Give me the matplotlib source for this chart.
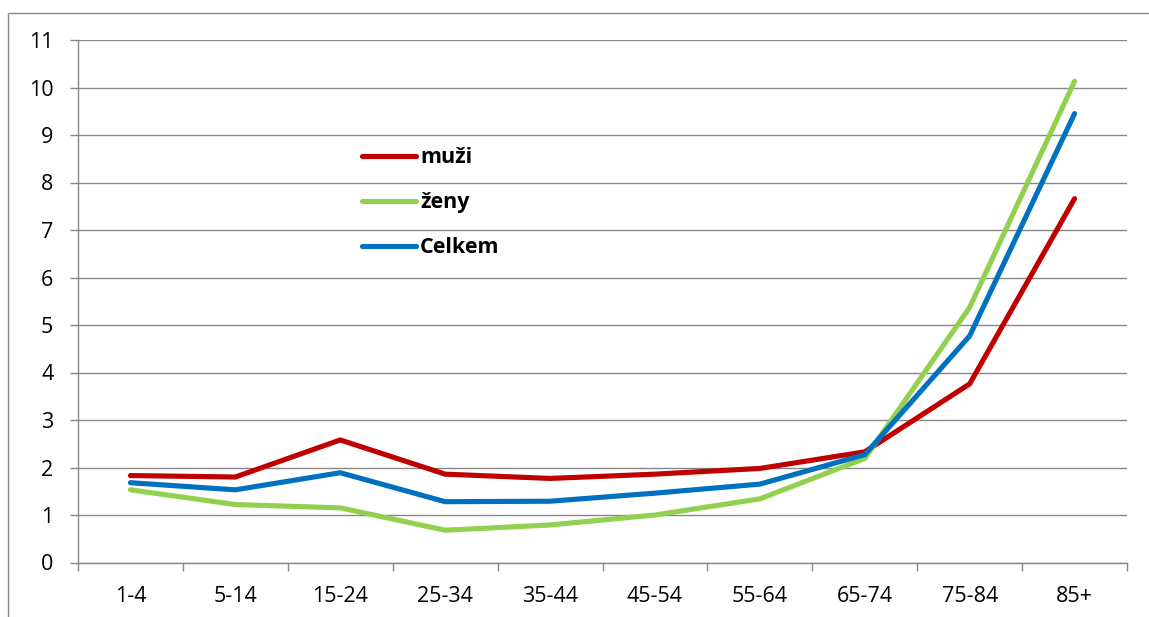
import numpy as np
import matplotlib
matplotlib.use("Agg")
import matplotlib.pyplot as plt
from matplotlib.lines import Line2D

# data
kategorie = ['1-4', '5-14', '15-24', '25-34', '35-44', '45-54', '55-64', '65-74', '75-84', '85+']
muzi = [1.83, 1.80, 2.58, 1.86, 1.77, 1.86, 1.98, 2.33, 3.76, 7.66]
zeny = [1.53, 1.22, 1.15, 0.68, 0.79, 1.00, 1.34, 2.19, 5.37, 10.13]
celkem = [1.68, 1.53, 1.89, 1.28, 1.29, 1.46, 1.65, 2.27, 4.77, 9.45]

plt.rcParams['font.family'] = ['Open Sans', 'DejaVu Sans']

W, H = 1149, 617
fig = plt.figure(figsize=(W / 100, H / 100), dpi=100)
ax = fig.add_axes([78 / W, (H - 562.5) / H, (1127 - 78) / W, (562.5 - 40) / H])

x = np.arange(len(kategorie))
lw = 3.7
ax.plot(x, muzi, color='#C00000', lw=lw, label='muži', solid_capstyle='round', solid_joinstyle='round')
ax.plot(x, zeny, color='#92D050', lw=lw, label='ženy', solid_capstyle='round', solid_joinstyle='round')
ax.plot(x, celkem, color='#0070C0', lw=lw, label='Celkem', solid_capstyle='round', solid_joinstyle='round')

ax.set_xlim(-0.5, len(kategorie) - 0.5)
ax.set_ylim(0, 11)
ax.set_yticks(range(0, 12))
ax.set_xticks(x)
ax.set_xticklabels(kategorie)
ax.set_xticks(np.arange(-0.5, len(kategorie)), minor=True)

gray = '#878787'
ax.grid(axis='y', color=gray, lw=1.0)
ax.set_axisbelow(True)
for s in ['top', 'right']:
    ax.spines[s].set_visible(False)
for s in ['left', 'bottom']:
    ax.spines[s].set_color(gray)
    ax.spines[s].set_linewidth(1.0)

ax.tick_params(axis='x', which='major', length=0, pad=17, labelsize=15.5, colors='black')
ax.tick_params(axis='x', which='minor', length=5.8, width=1.0, color=gray, direction='out')
ax.tick_params(axis='y', length=5.8, width=1.0, color=gray, pad=12, labelsize=15.5)

leg = ax.legend(loc='upper left', bbox_to_anchor=(0.2707, 0.795), frameon=False,
                borderpad=0, borderaxespad=0, handlelength=2.5, handletextpad=0.2,
                labelspacing=1.12, prop={'weight': 'bold', 'size': 15.5})

# outer chart frame (left and top edges only, the rest is cut off)
fig.add_artist(Line2D([8 / W, 8 / W], [-0.05, (H - 12.7) / H], color=gray, lw=1.0,
                      transform=fig.transFigure, solid_capstyle='butt'))
fig.add_artist(Line2D([8 / W, 1.05], [(H - 12.7) / H, (H - 12.7) / H], color=gray, lw=1.0,
                      transform=fig.transFigure, solid_capstyle='butt'))

fig.savefig('out.png', dpi=100)
